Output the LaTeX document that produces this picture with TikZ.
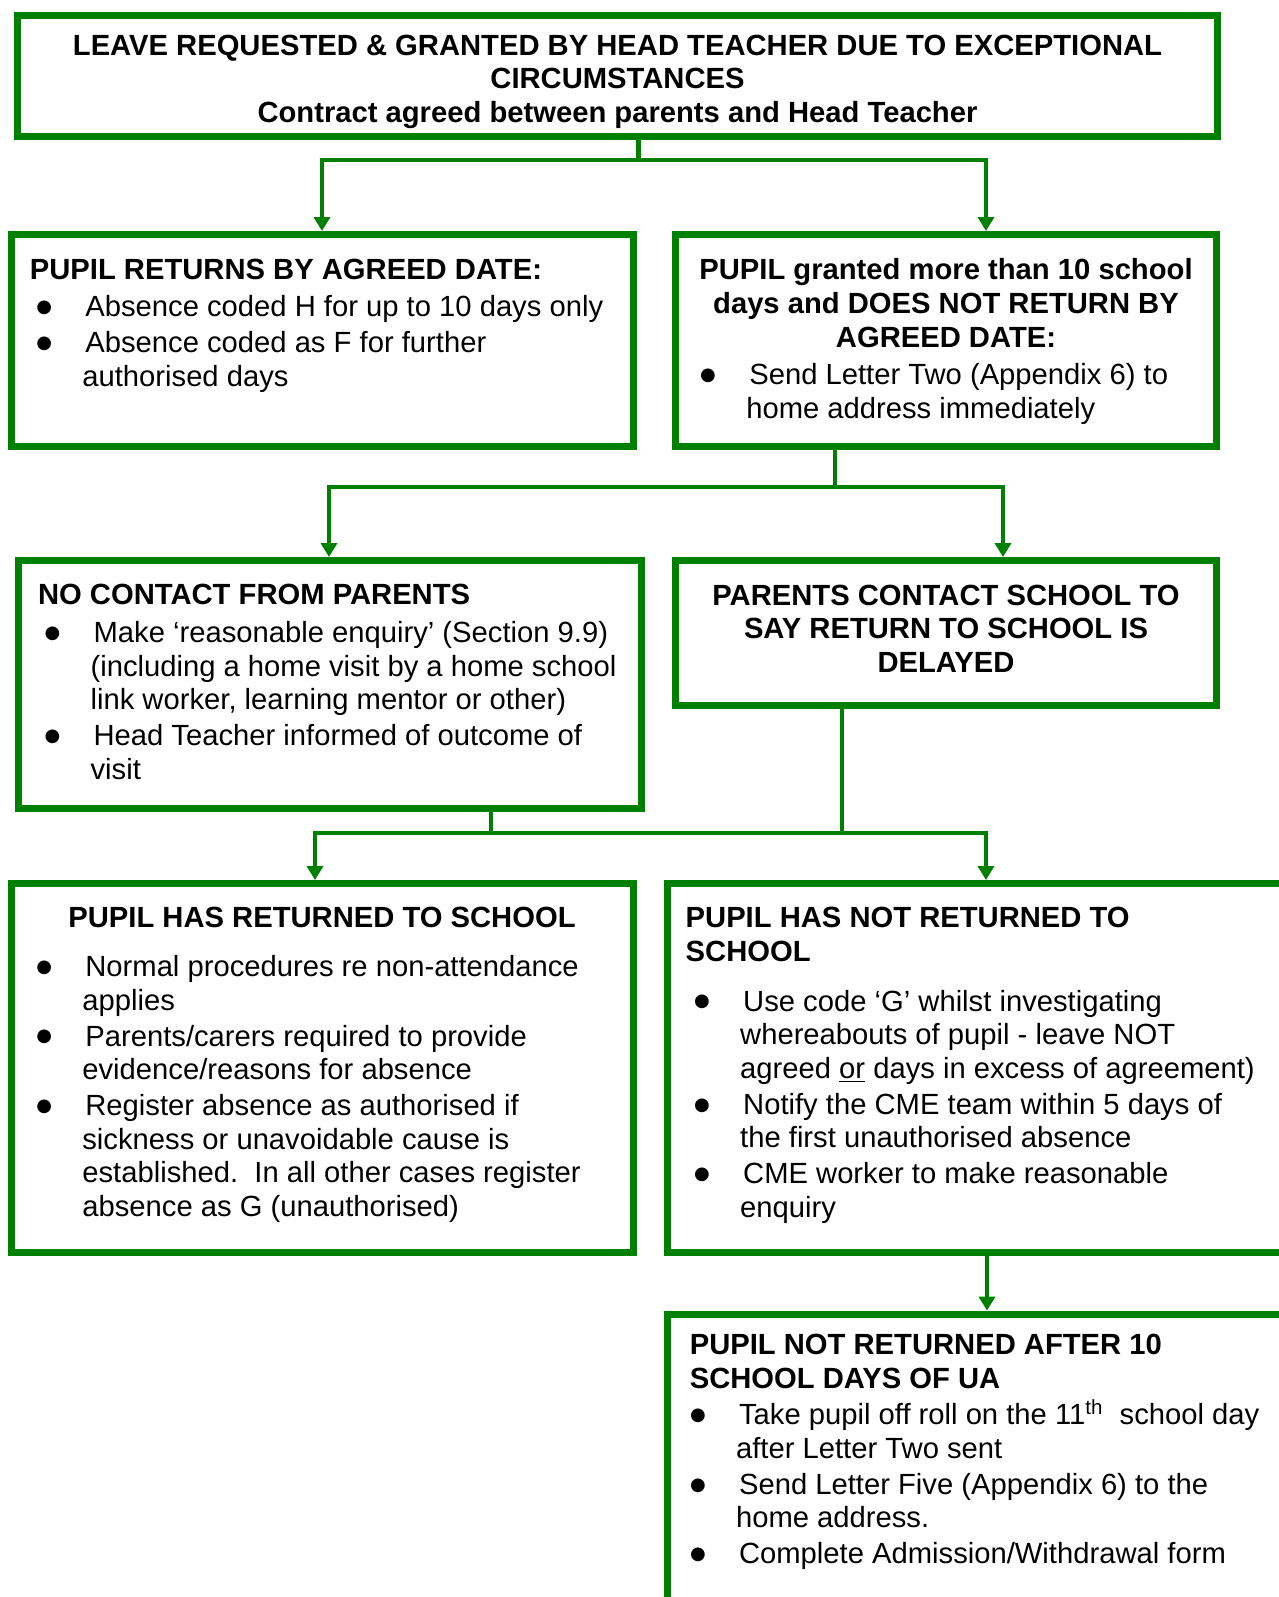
\documentclass[tikz,border=0pt]{standalone}
\usepackage{fontspec}
\setmainfont{Liberation Sans}
\newfontfamily\dotfont{DejaVu Sans}
\usepackage{tikz}
\usetikzlibrary{arrows.meta}
\definecolor{fcgreen}{HTML}{008000}
\newcommand\bul{\makebox[27.75pt][l]{\hspace{3.2pt}\raisebox{2.1pt}{\dotfont\fontsize{9pt}{9pt}\selectfont ●}}}
\newcommand\cnt{\hspace{26.25pt}}

\begin{document}
\begin{tikzpicture}[x=0.5pt, y=-0.5pt,
  box/.style={draw=fcgreen, line width=3.5pt, inner sep=0pt, anchor=north west},
  hdr/.style={inner sep=0pt, font=\fontsize{14.6pt}{16.8pt}\selectfont\bfseries},
  txt/.style={inner sep=0pt, align=left, anchor=north west, font=\fontsize{14.6pt}{16.8pt}\selectfont},
  link/.style={draw=fcgreen, line width=2.4pt},
  flow/.style={link, -{Triangle[length=7pt, width=8pt]}}]
  \clip (0,0) rectangle (1279,1597);
  % boxes
  \node[box, minimum width=600pt, minimum height=60.5pt] (leave) at (14,12) {};
  \node[box, minimum width=310.75pt, minimum height=106pt] (back) at (8,231) {};
  \node[box, minimum width=270.5pt, minimum height=106pt] (late) at (672,231) {};
  \node[box, minimum width=311.15pt, minimum height=123.8pt] (lost) at (15.3,557) {};
  \node[box, minimum width=270.5pt, minimum height=72.4pt] (call) at (672,557) {};
  \node[box, minimum width=310.75pt, minimum height=184.3pt] (home) at (8,880) {};
  \node[box, minimum width=307.25pt, minimum height=184.3pt] (away) at (664,880) {};
  \node[box, minimum width=314.5pt, minimum height=166.2pt] (off) at (664,1310.6) {};
  % texts
  \node[hdr, align=center, anchor=north] (leaveT) at (617.5,34.3) {LEAVE REQUESTED \& GRANTED BY HEAD TEACHER DUE TO EXCEPTIONAL\\CIRCUMSTANCES\\Contract agreed between parents and Head Teacher};
  \node[hdr, anchor=north west] (backH) at (29.5,258.3) {PUPIL RETURNS BY AGREED DATE:};
  \node[txt] (backT) at (29.5,295) {\bul Absence coded H for up to 10 days only\\[1.2pt]
    \bul Absence coded as F for further\\
    \cnt authorised days};
  \node[hdr, align=center, anchor=north] (lateH) at (946,258.3) {PUPIL granted more than 10 school\\days and DOES NOT RETURN BY\\AGREED DATE:};
  \node[txt] (lateT) at (693.4,363.2) {\bul Send Letter Two (Appendix 6) to\\
    \cnt home address immediately};
  \node[hdr, anchor=north west] (lostH) at (37.7,584.2) {NO CONTACT FROM PARENTS};
  \node[txt] (lostT) at (37.7,620.9) {\bul Make ‘reasonable enquiry’ (Section 9.9)\\
    \cnt (including a home visit by a home school\\
    \cnt link worker, learning mentor or other)\\[1.2pt]
    \bul Head Teacher informed of outcome of\\
    \cnt visit};
  \node[hdr, align=center, anchor=north] (callH) at (946,584.2) {PARENTS CONTACT SCHOOL TO\\SAY RETURN TO SCHOOL IS\\DELAYED};
  \node[hdr, anchor=north] (homeH) at (322,907) {PUPIL HAS RETURNED TO SCHOOL};
  \node[txt] (homeT) at (29.5,954.9) {\bul Normal procedures re non-attendance\\
    \cnt applies\\[1.2pt]
    \bul Parents/carers required to provide\\
    \cnt evidence/reasons for absence\\[1.2pt]
    \bul Register absence as authorised if\\
    \cnt sickness or unavoidable cause is\\
    \cnt established.\ \ In all other cases register\\
    \cnt absence as G (unauthorised)};
  \node[hdr, align=left, anchor=north west] (awayH) at (685.3,907) {PUPIL HAS NOT RETURNED TO\\SCHOOL};
  \node[txt] (awayT) at (687.3,989.5) {\bul Use code ‘G’ whilst investigating\\
    \cnt whereabouts of pupil - leave NOT\\
    \cnt agreed \underline{or} days in excess of agreement)\\[1.2pt]
    \bul Notify the CME team within 5 days of\\
    \cnt the first unauthorised absence\\[1.2pt]
    \bul CME worker to make reasonable\\
    \cnt enquiry};
  \node[hdr, align=left, anchor=north west] (offH) at (689.4,1333.7) {PUPIL NOT RETURNED AFTER 10\\SCHOOL DAYS OF UA};
  \node[txt] (offT) at (683.2,1399) {\bul Take pupil off roll on the 11\textsuperscript{th}\ \ school day\\
    \cnt after Letter Two sent\\[1.2pt]
    \bul Send Letter Five (Appendix 6) to the\\
    \cnt home address.\\[1.2pt]
    \bul Complete Admission/Withdrawal form};
  % connectors
  \coordinate (j1) at (638.5,160);
  \coordinate (j1l) at (322,160);
  \coordinate (j1r) at (986,160);
  \draw[link] (leave.south -| j1) -- (j1);
  \draw[flow] (j1) -| (back.north -| j1l);
  \draw[flow] (j1) -| (late.north -| j1r);
  \coordinate (j2) at (835,487);
  \coordinate (j2l) at (329,487);
  \coordinate (j2r) at (1003,487);
  \draw[link] (late.south -| j2) -- (j2);
  \draw[flow] (j2) -| (lost.north -| j2l);
  \draw[flow] (j2) -| (call.north -| j2r);
  \coordinate (j3a) at (491,833);
  \coordinate (j3b) at (842,833);
  \coordinate (j3l) at (315,833);
  \coordinate (j3r) at (986,833);
  \draw[link] (lost.south -| j3a) -- (j3a);
  \draw[link] (call.south -| j3b) -- (j3b);
  \draw[link] (j3a) -- (j3b);
  \draw[flow] (j3a) -| (home.north -| j3l);
  \draw[flow] (j3b) -| (away.north -| j3r);
  \coordinate (j4) at (987,1280);
  \draw[flow] (away.south -| j4) -- (off.north -| j4);
\end{tikzpicture}
\end{document}
